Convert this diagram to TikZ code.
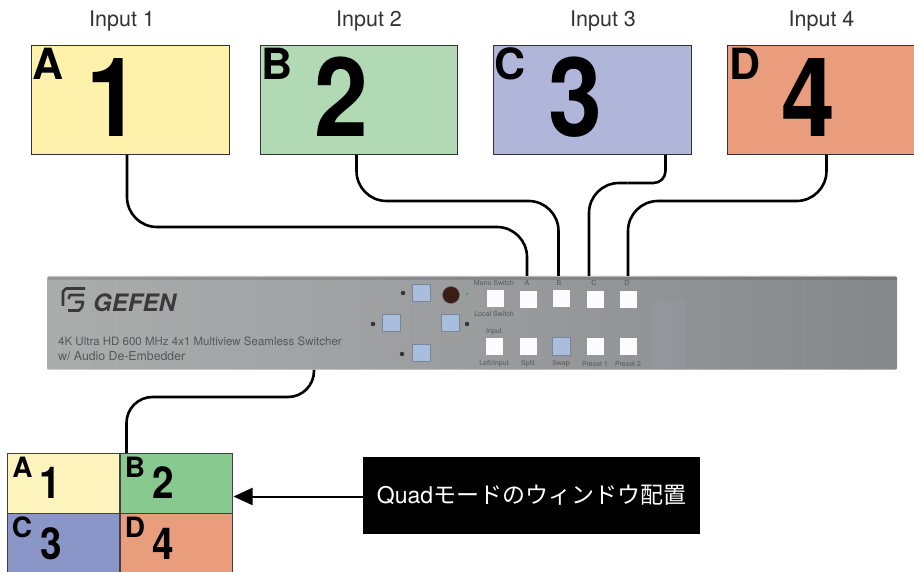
\documentclass[tikz,border=0pt]{standalone}
\usepackage{fontspec}
\setmainfont{TeX Gyre Heros}
\newfontfamily\cjk{Noto Sans CJK JP}
\usetikzlibrary{arrows.meta,calc}
\definecolor{yelA}{HTML}{FDF1AB}
\definecolor{grnB}{HTML}{B1D9B3}
\definecolor{bluC}{HTML}{B0B5DA}
\definecolor{orgD}{HTML}{E99D7C}
\definecolor{yelQ}{HTML}{FDF3BD}
\definecolor{grnQ}{HTML}{88C98F}
\definecolor{bluQ}{HTML}{8B96C8}
\definecolor{panelL}{HTML}{ABADAD}
\definecolor{panelM}{HTML}{9A9C9E}
\definecolor{panelR}{HTML}{85888B}
\definecolor{btnB}{HTML}{A9BEDC}
\definecolor{ink}{HTML}{55585A}
\definecolor{ledC}{HTML}{3A1E16}
\definecolor{logoC}{HTML}{3A3838}
\newcommand{\fsz}[1]{\fontsize{#1}{#1}\selectfont}
\newcommand{\narrowB}[1]{\scalebox{.88}[1]{#1}}
\tikzset{
  screen/.style={draw=black!80,line width=1pt,inner sep=0pt,minimum width=197.5pt,minimum height=109.5pt},
  cell/.style={draw=black!75,line width=1.5pt,inner sep=0pt,minimum width=112.5pt,minimum height=60pt},
  wire/.style={draw=black,line width=2.6pt},
  inlabel/.style={inner sep=0pt,font=\fsz{21.5},text=black!80},
  bigdigit/.style={inner sep=0pt,anchor=base,font=\fsz{110}\bfseries,text=black},
  bigletter/.style={inner sep=0pt,anchor=base,font=\fsz{43}\bfseries,text=black},
  qdigit/.style={inner sep=0pt,anchor=base,font=\fsz{44}\bfseries,text=black},
  qletter/.style={inner sep=0pt,anchor=base,font=\fsz{28}\bfseries,text=black},
  whitebtn/.style={fill=white!96!btnB,inner sep=0pt,minimum size=17pt},
  bluebtn/.style={fill=btnB,draw=btnB!70!black,line width=.5pt,inner sep=0pt,minimum size=17.5pt},
  pdot/.style={circle,fill=black!80,inner sep=0pt,minimum size=4.5pt},
  tiny/.style={inner sep=0pt,font=\fsz{7},text=ink},
  paneltext/.style={inner sep=0pt,anchor=base west,font=\fsz{11.5},text=ink},
}
\begin{document}
\begin{tikzpicture}[x=1pt,y=-1pt]
\useasboundingbox (0,0) rectangle (914,572);

% input screens
\node[screen,fill=yelA] (s1) at (130.25,100.25) {};
\node[screen,fill=grnB] (s2) at (359,100.25) {};
\node[screen,fill=bluC] (s3) at (592.25,100.25) {};
\node[screen,fill=orgD,minimum width=190pt] (s4) at (822,100.25) {};

\node[inlabel] (l1) at (122,21.5) {Input 1};
\node[inlabel] (l2) at (369,21.5) {Input 2};
\node[inlabel] (l3) at (603,21.5) {Input 3};
\node[inlabel] (l4) at (821.5,21.5) {Input 4};

\node[bigletter] (a1) at (48.5,80) {A};
\node[bigletter] (b1) at (277,80) {B};
\node[bigletter] (c1) at (510,80) {C};
\node[bigletter] (d1) at (745,80) {D};
\node[bigdigit] (n1) at (113,137) {\narrowB{1}};
\node[bigdigit] (n2) at (341,137) {\narrowB{2}};
\node[bigdigit] (n3) at (575,137) {\narrowB{3}};
\node[bigdigit] (n4) at (808,137) {\narrowB{4}};

% front panel
\node[inner sep=0pt,minimum width=850pt,minimum height=94pt,rounded corners=2pt,
      left color=panelL,right color=panelR,middle color=panelM] (panel) at (472,323) {};
\fill[white,opacity=.35] (47,276) rectangle (897,277.2);
\fill[black,opacity=.13] (48,277.2) rectangle (897,280);
\fill[white,opacity=.35] (48,368.6) rectangle (897,370);
\fill[btnB,opacity=.10] (653,301) rectangle (685,368);

% logo
\draw[draw=logoC,line width=2.6pt,line join=round] (63,306) -- (63,291.5) -- (66,288.5) -- (85,288.5);
\draw[draw=logoC,line width=2.6pt,line join=round] (84,295) -- (70,295) -- (68.5,299)
  (75,302) -- (83,302) -- (82,307) -- (79,310.5) -- (68,310.5);
\node[inner sep=0pt,anchor=base west,font=\fsz{24}\bfseries\itshape,text=logoC] (logo) at (93,312) {GEFEN};
\node[paneltext] (t1) at (58,345) {4K Ultra HD 600 MHz 4x1 Multiview Seamless Switcher};
\node[paneltext,font=\fsz{12.3}] (t2) at (58,361) {w/ Audio De-Embedder};

% navigation buttons
\node[bluebtn] (up) at (421,293) {};
\node[bluebtn] (lf) at (391,323) {};
\node[bluebtn] (rt) at (450,323) {};
\node[bluebtn] (dn) at (421,353) {};
\node[pdot] (dup) at (403,293) {};
\node[pdot] (dlf) at (373,324) {};
\node[pdot] (drt) at (467,324) {};
\node[pdot] (ddn) at (402,354) {};
\node[circle,fill=ledC,draw=black!60,line width=.4pt,inner sep=0pt,minimum size=17pt] (led) at (451,295) {};
\node[circle,fill=black!40!green!40!panelM,inner sep=0pt,minimum size=3pt] (ledg) at (467,294) {};

% top row
\node[whitebtn] (b1t) at (495,299) {};
\node[whitebtn] (b2t) at (528,300) {};
\node[whitebtn] (b3t) at (561,299) {};
\node[whitebtn] (b4t) at (595,300) {};
\node[whitebtn] (b5t) at (628,300) {};
% bottom row
\node[whitebtn] (b1b) at (494,347) {};
\node[whitebtn] (b2b) at (528,347) {};
\node[bluebtn] (b3b) at (561,346.5) {};
\node[whitebtn] (b4b) at (595,347) {};
\node[whitebtn] (b5b) at (628,347) {};

\node[tiny] (ms) at (494,283) {Menu Switch};
\node[tiny] (pa) at (527,283) {A};
\node[tiny] (pb) at (559,283) {B};
\node[tiny] (pc) at (594,283) {C};
\node[tiny] (pd) at (627,283) {D};
\node[tiny] (ls) at (494,314) {Local Switch};
\node[tiny] (sp) at (494,332) {Input};
\node[tiny] (q1) at (494,364) {Left/Input};
\node[tiny] (q2) at (528,364) {Split};
\node[tiny] (q3) at (561,364) {Swap};
\node[tiny] (q4) at (595,364) {Preset 1};
\node[tiny] (q5) at (628,364) {Preset 2};

% connectors
\coordinate (o1) at (127,155);
\coordinate (o2) at (356.5,155);
\coordinate (o3) at (665.5,155);
\coordinate (o4) at (826.5,155);
\coordinate (p1) at (527,276);
\coordinate (p2) at (558.5,276);
\coordinate (p3) at (589,276);
\coordinate (p4) at (628,276);
\coordinate (m1) at (527,227);
\coordinate (m2) at (558.5,201);
\coordinate (k3a) at (665.5,183);
\coordinate (k3b) at (589,183);
\coordinate (m4) at (628,201);
\draw[wire,rounded corners=30pt] (o1) |- (m1) -- (p1);
\draw[wire,rounded corners=30pt] (o2) |- (m2) -- (p2);
\draw[wire,rounded corners=12pt] (o3) -- (k3a) -- ($(k3a)!.5!(k3b)$);
\draw[wire,rounded corners=30pt] ($(k3a)!.5!(k3b)$) -- (k3b) -- (p3);
\draw[wire,rounded corners=30pt] (o4) |- (m4) -- (p4);

% quad output
\node[cell,fill=yelQ] (qa) at (63.75,483.5) {};
\node[cell,fill=grnQ] (qb) at (176.25,483.5) {};
\node[cell,fill=bluQ,minimum height=64pt] (qc) at (63.75,545.5) {};
\node[cell,fill=orgD,minimum height=64pt] (qd) at (176.25,545.5) {};
\node[qletter] (la) at (22.5,477) {A};
\node[qletter] (lb) at (135,477) {B};
\node[qletter] (lc) at (22,537) {C};
\node[qletter] (ld) at (135,537) {D};
\node[qdigit] (na) at (50,498) {\narrowB{1}};
\node[qdigit] (nb) at (163,498) {\narrowB{2}};
\node[qdigit] (nc) at (51,559) {\narrowB{3}};
\node[qdigit] (nd) at (163,559) {\narrowB{4}};

\coordinate (po) at (314,370);
\coordinate (qi) at (126.5,453);
\coordinate (mo) at (314,397);
\draw[wire,rounded corners=26pt] (po) -- (mo) -| (qi);

% caption
\node[fill=black,text=white,inner sep=0pt,minimum width=337pt,minimum height=77pt,font=\fsz{23}] (cap) at (531.5,495.5) {Quad{\cjk モードのウィンドウ配置}};
\coordinate (qe) at (233.5,496.5);
\draw[draw=black,line width=2pt,-{Triangle[length=19pt,width=17pt]}] (cap.west |- qe) -- (qe);
\end{tikzpicture}
\end{document}
